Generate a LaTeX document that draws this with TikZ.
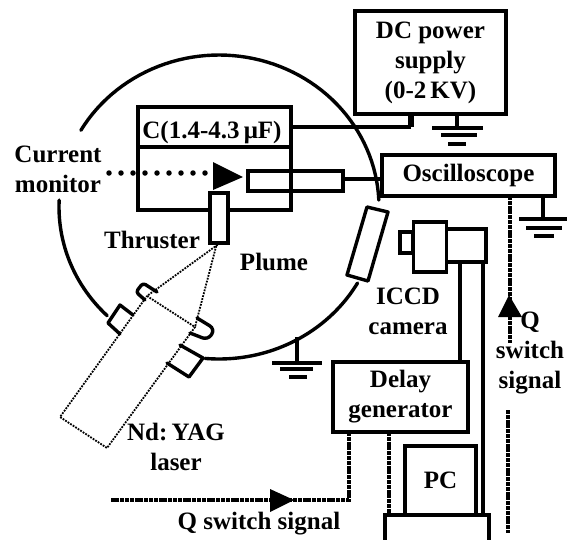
\documentclass[tikz,border=0pt]{standalone}
\usepackage{fontspec}
\setmainfont{Liberation Serif}
\begin{document}
\begin{tikzpicture}[x=1pt,y=-1pt,
  lbl/.style={font=\bfseries\fontsize{25}{30}\selectfont,align=center,inner sep=0pt,text=black},
  boxn/.style={draw,line width=3.6pt,fill=white,inner sep=0pt,lbl},
  plainbox/.style={draw,line width=3.6pt,inner sep=0pt},
  wire/.style={line width=3.4pt},
  hatch/.style={line width=3.6pt,dash pattern=on 4pt off 0.8pt},
  thin dots/.style={line width=1.8pt,dash pattern=on 1.8pt off 1.2pt},
  ball/.style={line width=5.5pt,line cap=round,dash pattern=on 0pt off 12pt},
  wall/.style={line width=3.4pt,line cap=round,line join=round},
  tip/.style={fill=black,draw=none}]
\useasboundingbox (0,0) rectangle (568,539);
% chamber wall
\draw[wall] plot[domain=149.7:2.6,samples=60] ({219+160*cos(\x)},{207-152*sin(\x)});
\draw[wall] plot[domain=177.4:225.7,samples=30] ({219+160*cos(\x)},{207-152*sin(\x)});
\draw[wall] plot[domain=-30:-95,samples=40] ({219+160*cos(\x)},{207-152*sin(\x)});
% ports
\draw[wall] (133,315)--(120,305)--(108,323)--(120,334);
\draw[wall,rounded corners=3pt] (157,292)--(143,283)--(136,292)--(145,300);
\draw[wall,rounded corners=6pt] (197,318)--(215,329)--(208,340)--(190,333);
\draw[wall] (180,345)--(203,358)--(189,377)--(167,363);
\draw[wall,fill=white] (367,207)--(388,212)--(368,281)--(347,275)--cycle;
% boxes
\node[boxn,minimum width=151pt,minimum height=103pt] (dc) at (430.5,62.5) {DC power\\supply\\(0-2\,KV)};
\node[boxn,minimum width=173pt,minimum height=41pt] (osc) at (468.5,175.5) {Oscilloscope};
\node[plainbox,minimum width=153pt,minimum height=103pt] (cap) at (214.5,158.5) {};
\coordinate (capdiv) at (138,147);
\coordinate (capdivr) at (291,147);
\draw[wire] (capdiv)--(capdivr);
\node[lbl] (caplabel) at (212,132) {C(1.4-4.3\,μF)};
\node[plainbox,minimum width=95pt,minimum height=20pt] (mon) at (295.5,181) {};
\node[plainbox,fill=white,minimum width=18pt,minimum height=50pt] (thr) at (219,218) {};
\node[boxn,minimum width=135pt,minimum height=70pt] (delay) at (400.5,397) {Delay\\generator};
\node[boxn,minimum width=71pt,minimum height=69pt] (pc) at (440.5,480.5) {PC};
\node[plainbox,minimum width=104pt,minimum height=40pt] (base) at (437,535) {};
% camera
\node[plainbox,minimum width=13pt,minimum height=21pt] (camL) at (406.5,242.5) {};
\node[plainbox,minimum width=40pt,minimum height=33pt] (camR) at (466,245.5) {};
\node[plainbox,fill=white,minimum width=33pt,minimum height=50pt] (camM) at (430,247) {};
% connectors
\coordinate (dcout) at (411,114);
\coordinate (dcknee) at (411,127);
\draw[line width=5.5pt] (dcout)--(dcknee);
\draw[wire] (dcknee)--(cap.east |- dcknee);
\draw[wire] (mon.east |- 0,179)--(osc.west |- 0,179);
\coordinate (gn1) at (457,128);
\draw[wire] (gn1 |- dc.south)--(gn1);
\draw[wire] (432,128)--(483,128) (441,135)--(477,135) (448,144)--(466,144);
\coordinate (gn3) at (543,219);
\draw[wire] (gn3 |- osc.south)--(gn3);
\draw[wire] (519,219)--(567,219) (526,228)--(562,228) (534,236)--(554,236);
\coordinate (gn2) at (297,363);
\draw[wire] (297,337)--(gn2);
\draw[wire] (272,363)--(322,363) (280,369)--(313,369) (289,377)--(307,377);
\draw[wire] (460,262)--(460,362);
\draw[wire] (483,262)--(483,515);
\draw[hatch] (389,432)--(389,515);
\coordinate (qk) at (349,500);
\coordinate (qs) at (110,500);
\draw[hatch] (349,432)--(qk)--(qs);
\draw[tip] (270,489)--(294,500)--(270,512)--cycle;
\draw[hatch] (510,196)--(510,343);
\draw[tip] (509,295)--(522,317)--(498,317)--cycle;
\draw[hatch] (508,410)--(508,533);
% dotted arrow
\draw[ball] (109,173)--(213,173);
\draw[tip] (213,162)--(243,177)--(213,190)--cycle;
% laser
\coordinate (L1) at (147,296);
\coordinate (L2) at (195,327);
\coordinate (L3) at (107,448);
\coordinate (L4) at (60,417);
\draw[thin dots] (L1)--(L2)--(L3)--(L4)--cycle;
\draw[thin dots] (220,243)--(L1);
\draw[thin dots] (217,243)--(L2);
% labels
\node[lbl] (cur) at (58,169) {Current\\monitor};
\node[lbl] (thl) at (152,240) {Thruster};
\node[lbl] (plume) at (274,262) {Plume};
\node[lbl] (iccd) at (408,311.5) {ICCD\\camera};
\node[lbl] (nd) at (176,447) {Nd:\,YAG\\laser};
\node[lbl] (qsig) at (530,353) {Q\\switch\\signal};
\node[lbl] (qbot) at (259,524) {Q switch signal};
\end{tikzpicture}
\end{document}
